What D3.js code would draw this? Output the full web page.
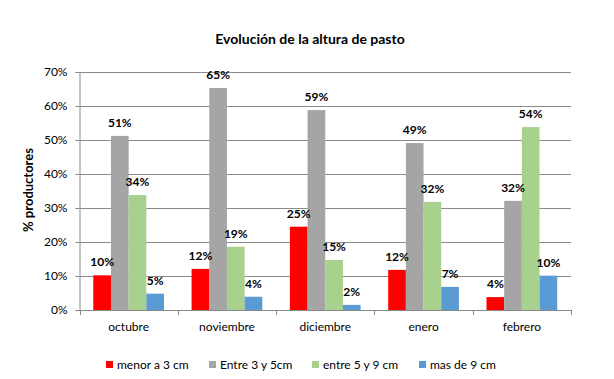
<!DOCTYPE html>
<html>
<head>
<meta charset="utf-8">
<script src="https://cdn.jsdelivr.net/npm/d3@7"></script>
<style>
  html, body { margin: 0; padding: 0; background: #fff; }
  svg { display: block; font-family: Lato, "Open Sans", sans-serif; }
</style>
</head>
<body>
<svg id="chart" width="614" height="379"></svg>
<script>
const title = "Evolución de la altura de pasto";
const yTitle = "% productores";
const categories = ["octubre", "noviembre", "diciembre", "enero", "febrero"];
const seriesNames = ["menor a 3 cm", "Entre 3 y 5cm", "entre 5 y 9 cm", "mas de 9 cm"];
const seriesColors = ["#FF0000", "#A5A5A5", "#A9D18E", "#5B9BD5"];
const menor3 = [10.2, 12.1, 24.5, 11.8, 3.8];
const entre3y5 = [51.2, 65.3, 58.8, 49.1, 32.1];
const entre5y9 = [33.8, 18.6, 14.7, 31.8, 53.8];
const mas9 = [4.8, 3.9, 1.5, 6.8, 10.1];
const yTicks = [0, 10, 20, 30, 40, 50, 60, 70];

const seriesValues = [menor3, entre3y5, entre5y9, mas9];

const svg = d3.select("#chart");
const pLeft = 79.5, pRight = 571, pTop = 72, pBottom = 310;

const x = d3.scaleBand().domain(categories).range([pLeft, pRight]).padding(0);
const xs = d3.scaleBand().domain(seriesNames).range([0, x.bandwidth()]).paddingInner(0).paddingOuter(0.78);
const y = d3.scaleLinear().domain([0, 70]).range([pBottom, pTop]);

// gridlines
svg.append("g").selectAll("line").data(yTicks.filter(d => d > 0)).join("line")
  .attr("x1", pLeft).attr("x2", pRight)
  .attr("y1", d => Math.round(y(d)) + 0.5).attr("y2", d => Math.round(y(d)) + 0.5)
  .attr("stroke", "#8a8a8a").attr("stroke-width", 1);

// y axis
const yAxis = d3.axisLeft(y).tickValues(yTicks).tickFormat(d => d + "%").tickSize(4).tickPadding(8);
const gy = svg.append("g").attr("transform", `translate(${pLeft},0)`).call(yAxis);
gy.select(".domain").attr("stroke", "#8a8a8a");
gy.selectAll(".tick line").attr("stroke", "#8a8a8a");
gy.selectAll(".tick text").attr("font-size", 12).attr("fill", "#000").attr("font-family", "Lato");

// bars
const data = [];
categories.forEach((c, i) => seriesNames.forEach((s, j) => data.push({c, s, j, v: seriesValues[j][i]})));
svg.append("g").selectAll("rect").data(data).join("rect")
  .attr("x", d => x(d.c) + xs(d.s))
  .attr("width", xs.bandwidth())
  .attr("y", d => y(d.v))
  .attr("height", d => y(0) - y(d.v))
  .attr("fill", d => seriesColors[d.j]);

// x axis
const xAxis = d3.axisBottom(x).tickSize(0).tickPadding(12);
const gx = svg.append("g").attr("transform", `translate(0,${pBottom})`).call(xAxis);
gx.select(".domain").attr("stroke", "#8a8a8a");
gx.selectAll(".tick text").attr("font-size", 12).attr("fill", "#000").attr("font-family", "Lato");
// boundary tick marks
const bounds = categories.map(c => x(c)).concat([pRight]);
svg.append("g").selectAll("line").data(bounds).join("line")
  .attr("x1", d => Math.round(d) + 0.5).attr("x2", d => Math.round(d) + 0.5)
  .attr("y1", pBottom).attr("y2", pBottom + 5)
  .attr("stroke", "#8a8a8a");

// value labels
svg.append("g").selectAll("text").data(data).join("text")
  .attr("x", d => x(d.c) + xs(d.s) + xs.bandwidth() / 2)
  .attr("y", d => y(d.v) - 9)
  .attr("text-anchor", "middle")
  .attr("font-size", 12).attr("font-weight", "bold").attr("fill", "#000")
  .text(d => Math.round(d.v) + "%");

// title
svg.append("text").attr("x", 310).attr("y", 44).attr("text-anchor", "middle")
  .attr("font-size", 14).attr("font-weight", "bold").text(title);

// y title
svg.append("text").attr("transform", "translate(33,190) rotate(-90)")
  .attr("text-anchor", "middle").attr("font-size", 13).attr("font-weight", "bold").text(yTitle);

// legend
const legendX = [106, 209, 312, 419];
const lg = svg.append("g").selectAll("g").data(seriesNames).join("g")
  .attr("transform", (d, i) => `translate(${legendX[i]},361)`);
lg.append("rect").attr("width", 7).attr("height", 7).attr("fill", (d, i) => seriesColors[i]);
lg.append("text").attr("x", 11).attr("y", 7.5).attr("font-size", 12).attr("fill", "#000").text(d => d);
</script>
</body>
</html>
